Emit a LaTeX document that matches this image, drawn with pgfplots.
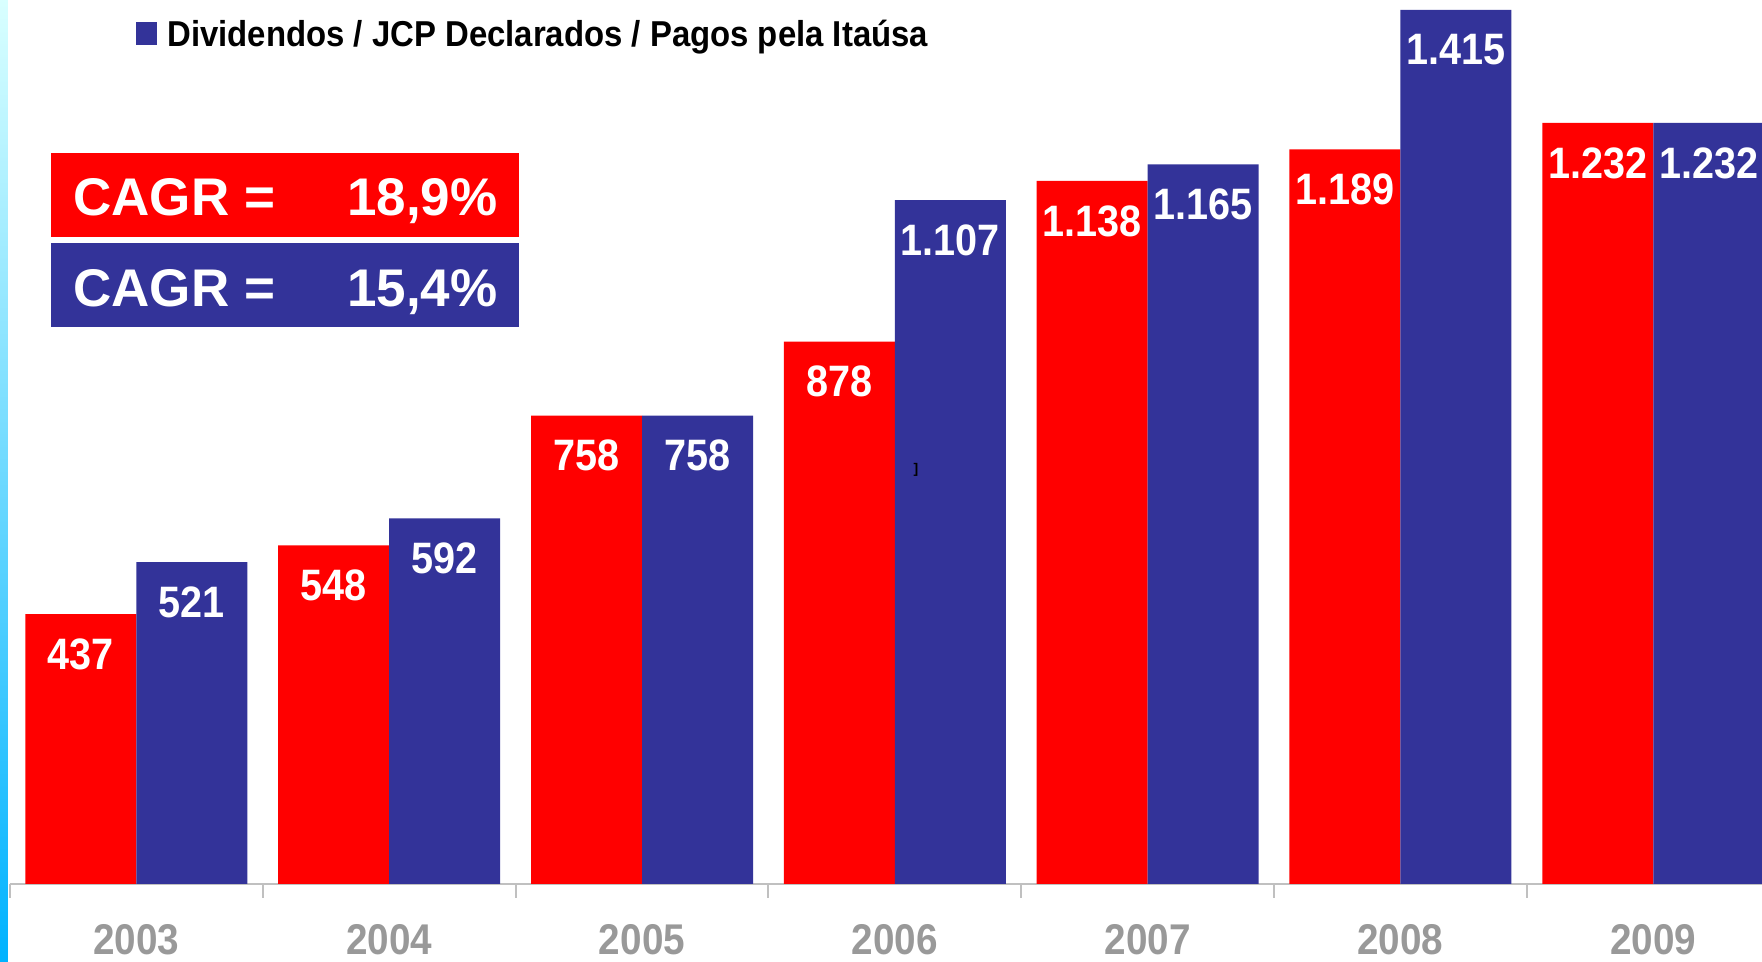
\documentclass[border=0pt]{standalone}
\usepackage{fontspec}
\setmainfont{Liberation Sans}
\newfontfamily\valfont[FakeStretch=0.9]{Liberation Sans}
\newfontfamily\legfont[FakeStretch=0.914]{Liberation Sans}
\usepackage{pgfplots}
\usepackage{pgfplotstable}
\pgfplotsset{compat=1.18}
\definecolor{cred}{HTML}{FF0000}
\definecolor{cblue}{HTML}{333399}
\definecolor{tickgray}{HTML}{999999}
\definecolor{axgray}{HTML}{C0C0C0}

\pgfplotstableread{
x red blue
0 437 521
1 548 592
2 758 758
3 878 1107
4 1138 1165
5 1189 1415
6 1232 1232
}\datatable

\begin{document}
\begin{tikzpicture}
\begin{axis}[
  scale only axis, width=876pt, height=442pt,
  xmin=-0.5, xmax=6.43, ymin=0, ymax=1431,
  ybar=0pt, bar width=55.5pt,
  axis x line*=bottom, axis y line=none,
  x axis line style={axgray, line width=1pt, -},
  xtick={0,1,2,3,4,5,6},
  xticklabels={2003,2004,2005,2006,2007,2008,2009},
  major tick length=0pt,
  minor xtick={-0.5,0.5,1.5,2.5,3.5,4.5,5.5},
  minor tick length=7pt, tick align=outside,
  minor tick style={axgray, line width=1pt},
  xticklabel style={anchor=center, yshift=-28pt, inner sep=0pt,
    font=\valfont\fontsize{21.5}{21.5}\selectfont\bfseries, text=tickgray},
  nodes near coords,
  every node near coord/.append style={anchor=center, yshift=-20pt,
    inner sep=0pt, font=\valfont\fontsize{22}{22}\selectfont\bfseries, text=white},
  /pgf/number format/.cd, fixed, precision=0, 1000 sep={.}, assume math mode=true,
  /pgfplots/.cd,
  clip=false,
]
\addplot[fill=cred, draw=none] table[x=x, y=red] {\datatable};
\addplot[fill=cblue, draw=none] table[x=x, y=blue] {\datatable};
\end{axis}
% left slide stripe
\shade[top color=white!85!cyan, bottom color=cyan!70!blue] (-5pt,-39pt) rectangle (-1pt,442pt);
% legend
\fill[cblue] (63pt,419.5pt) rectangle (73.5pt,431pt);
\node[anchor=base west, inner sep=0pt, font=\legfont\fontsize{18}{18}\selectfont\bfseries]
  at (78.5pt,418.5pt) {Dividendos / JCP Declarados / Pagos pela Itaúsa};
% CAGR boxes
\fill[cred] (20.3pt,323.5pt) rectangle (254.5pt,365.5pt);
\fill[cblue] (20.3pt,278.5pt) rectangle (254.5pt,320.5pt);
\node[anchor=base west, inner sep=0pt, text=white, font=\fontsize{26.5}{26.5}\selectfont\bfseries]
  at (31.5pt,334.2pt) {CAGR =};
\node[anchor=base east, inner sep=0pt, text=white, font=\fontsize{26.5}{26.5}\selectfont\bfseries]
  at (244pt,334.2pt) {18,9\%};
\node[anchor=base west, inner sep=0pt, text=white, font=\fontsize{26.5}{26.5}\selectfont\bfseries]
  at (31.5pt,288.6pt) {CAGR =};
\node[anchor=base east, inner sep=0pt, text=white, font=\fontsize{26.5}{26.5}\selectfont\bfseries]
  at (244pt,288.6pt) {15,4\%};
% stray mark
\node[inner sep=0pt, font=\fontsize{7}{7}\selectfont\bfseries] at (453pt,207pt) {]};
\pgfresetboundingbox
\path (-5pt,-39pt) rectangle (876pt,442pt);
\end{tikzpicture}
\end{document}
